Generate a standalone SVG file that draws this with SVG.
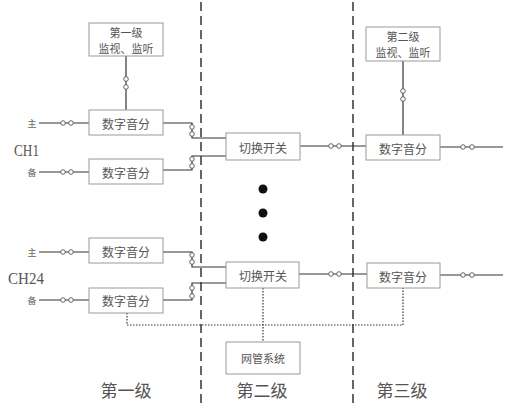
<svg xmlns="http://www.w3.org/2000/svg" width="506" height="408" viewBox="0 0 506 408">
<style>
.box{fill:#fff;stroke:#9a9a9a;stroke-width:1}
.t{font-family:"Noto Sans CJK SC",sans-serif;font-size:12px;fill:#555;text-anchor:middle;dominant-baseline:central}
.m{font-size:11px}
.s{font-family:"Noto Sans CJK SC",sans-serif;font-size:9px;fill:#666;text-anchor:middle;dominant-baseline:central}
.big{font-family:"Noto Sans CJK SC",sans-serif;font-size:17px;fill:#555;text-anchor:middle;dominant-baseline:central}
.ch{font-family:"Liberation Serif",serif;font-size:17px;fill:#555}
.ln{fill:none;stroke:#333;stroke-width:1.2}
.dot{fill:none;stroke:#333;stroke-width:1.2;stroke-dasharray:1.5 1.5}
.dash{fill:none;stroke:#666;stroke-width:2;stroke-dasharray:9 5}
.c{fill:#fff;stroke:#555;stroke-width:0.9}
.bd{fill:#111}
</style>
<rect width="506" height="408" fill="#fff"/>
<g id="dividers">
<line class="dash" x1="201" y1="2" x2="201" y2="408"/>
<line class="dash" x1="353" y1="2" x2="353" y2="408"/>
</g>
<g id="connectors">
<path class="ln" d="M126 56V110"/>
<path class="ln" d="M403 61V135"/>
<path class="ln" d="M39 123H89"/>
<path class="ln" d="M39 172H89"/>
<path class="ln" d="M163 123H192V138H226"/>
<path class="ln" d="M163 170H192V156H226"/>
<path class="ln" d="M300 146H366"/>
<path class="ln" d="M440 147H503"/>
<path class="ln" d="M39 252H89"/>
<path class="ln" d="M39 300H89"/>
<path class="ln" d="M163 252H192V267H226"/>
<path class="ln" d="M163 300H192V283H226"/>
<path class="ln" d="M299 274H367"/>
<path class="ln" d="M440 275H503"/>
<path class="dot" d="M127 313V325H403V288"/>
<path class="dot" d="M263 288V342"/>
<circle class="c" cx="126" cy="79" r="2.3"/><circle class="c" cx="126" cy="87" r="2.3"/>
<circle class="c" cx="403" cy="91" r="2.3"/><circle class="c" cx="403" cy="99" r="2.3"/>
<circle class="c" cx="63" cy="123" r="2.3"/><circle class="c" cx="71" cy="123" r="2.3"/>
<circle class="c" cx="63" cy="172" r="2.3"/><circle class="c" cx="71" cy="172" r="2.3"/>
<circle class="c" cx="192" cy="127" r="2.3"/><circle class="c" cx="192" cy="134" r="2.3"/>
<circle class="c" cx="192" cy="159" r="2.3"/><circle class="c" cx="192" cy="166" r="2.3"/>
<circle class="c" cx="331" cy="146" r="2.3"/><circle class="c" cx="339" cy="146" r="2.3"/>
<circle class="c" cx="463" cy="147" r="2.3"/><circle class="c" cx="472" cy="147" r="2.3"/>
<circle class="c" cx="63" cy="252" r="2.3"/><circle class="c" cx="71" cy="252" r="2.3"/>
<circle class="c" cx="63" cy="300" r="2.3"/><circle class="c" cx="71" cy="300" r="2.3"/>
<circle class="c" cx="192" cy="255" r="2.3"/><circle class="c" cx="192" cy="262" r="2.3"/>
<circle class="c" cx="192" cy="288" r="2.3"/><circle class="c" cx="192" cy="296" r="2.3"/>
<circle class="c" cx="331" cy="274" r="2.3"/><circle class="c" cx="339" cy="274" r="2.3"/>
<circle class="c" cx="463" cy="275" r="2.3"/><circle class="c" cx="472" cy="275" r="2.3"/>
</g>
<g id="mon1"><rect class="box" x="89" y="23" width="74" height="33"/><text class="t m" x="126" y="31.5">第一级</text><text class="t m" x="126" y="47.5">监视、监听</text></g>
<g id="mon2"><rect class="box" x="366" y="27" width="74" height="34"/><text class="t m" x="403" y="35.5">第二级</text><text class="t m" x="403" y="51.5">监视、监听</text></g>
<g id="das1"><rect class="box" x="89" y="110" width="74" height="25"/><text class="t" x="126" y="123">数字音分</text></g>
<g id="das2"><rect class="box" x="89" y="159" width="74" height="25"/><text class="t" x="126" y="172">数字音分</text></g>
<g id="sw1"><rect class="box" x="226" y="133" width="74" height="27"/><text class="t" x="263" y="147">切换开关</text></g>
<g id="das3"><rect class="box" x="366" y="135" width="74" height="25"/><text class="t" x="403" y="148">数字音分</text></g>
<g id="das4"><rect class="box" x="89" y="238" width="74" height="25"/><text class="t" x="126" y="251">数字音分</text></g>
<g id="das5"><rect class="box" x="89" y="288" width="74" height="25"/><text class="t" x="126" y="300">数字音分</text></g>
<g id="sw2"><rect class="box" x="226" y="262" width="73" height="26"/><text class="t" x="263" y="275">切换开关</text></g>
<g id="das6"><rect class="box" x="367" y="263" width="73" height="25"/><text class="t" x="403" y="276">数字音分</text></g>
<g id="nms"><rect class="box" x="226" y="342" width="74" height="32"/><text class="t" x="263" y="358" style="font-size:11px">网管系统</text></g>
<g id="dots"><circle class="bd" cx="263" cy="189" r="4.5"/><circle class="bd" cx="263" cy="213" r="4.5"/><circle class="bd" cx="263" cy="237" r="4.5"/></g>
<g id="labels">
<text class="s" x="32" y="123">主</text>
<text class="s" x="32" y="172">备</text>
<text class="s" x="32" y="252">主</text>
<text class="s" x="32" y="300">备</text>
<text class="ch" x="14" y="156" textLength="25" lengthAdjust="spacingAndGlyphs">CH1</text>
<text class="ch" x="8" y="284" textLength="36" lengthAdjust="spacingAndGlyphs">CH24</text>
<text class="big" x="126" y="389">第一级</text>
<text class="big" x="262" y="389">第二级</text>
<text class="big" x="402" y="389">第三级</text>
</g>
</svg>
